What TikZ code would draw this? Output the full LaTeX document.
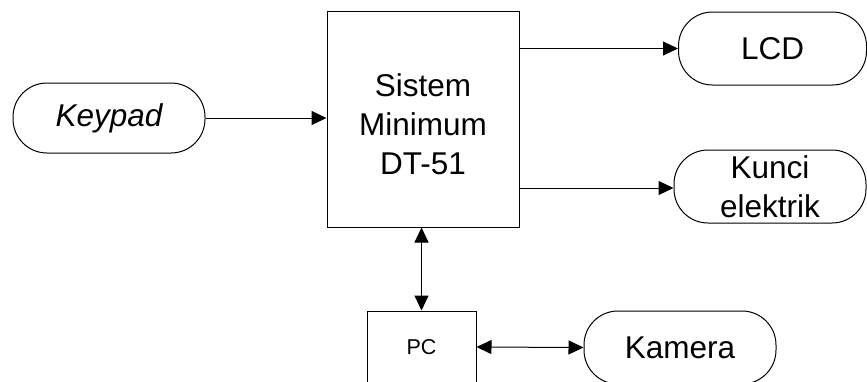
\documentclass[tikz,border=0pt]{standalone}
\usepackage{fontspec}
\setmainfont{Liberation Sans}
\usetikzlibrary{arrows.meta}
\tikzset{
  blk/.style={draw, line width=1pt, rectangle, inner sep=0pt},
  term/.style={draw, line width=1pt, rectangle, rounded corners=34pt, inner sep=0pt, align=center,
    font=\fontsize{31.5}{39}\selectfont},
  txt/.style={inner sep=0pt, align=center, font=\fontsize{31.5}{39}\selectfont},
  conn/.style={line width=1pt, -{Triangle[length=15pt,width=14pt]}},
  bconn/.style={line width=1pt, {Triangle[length=15pt,width=14pt]}-{Triangle[length=15pt,width=14pt]}}
}
\begin{document}
\begin{tikzpicture}[x=1pt,y=1pt]
\clip (0,0) rectangle (867,-381);
\node[term, minimum width=192pt, minimum height=70pt] (keypad) at (109,-118) {\itshape Keypad};
\node[blk, minimum width=192pt, minimum height=216pt] (main) at (423,-119) {};
\node[txt] (maintext) at (423,-124.5) {Sistem\\Minimum\\DT-51};
\node[term, minimum width=188pt, minimum height=73pt] (lcd) at (772.5,-48.5) {LCD};
\node[term, minimum width=192pt, minimum height=73pt] (kunci) at (770,-186.5) {Kunci\\elektrik};
\node[blk, minimum width=109pt, minimum height=72pt, font=\fontsize{21.5}{26}\selectfont] (pc) at (421.5,-347) {PC};
\node[term, minimum width=192pt, minimum height=73pt] (kamera) at (680,-347.5) {Kamera};
\draw[conn] (keypad.east) -- (keypad.east -| main.west);
\draw[conn] (main.east |- lcd.west) -- (lcd.west);
\draw[conn] ([yshift=-1.5pt]main.east |- kunci.west) -- ([yshift=-1.5pt]kunci.west);
\draw[bconn] (pc.north |- main.south) -- (pc.north);
\draw[bconn] (pc.east) -- (kamera.west);
\end{tikzpicture}
\end{document}
